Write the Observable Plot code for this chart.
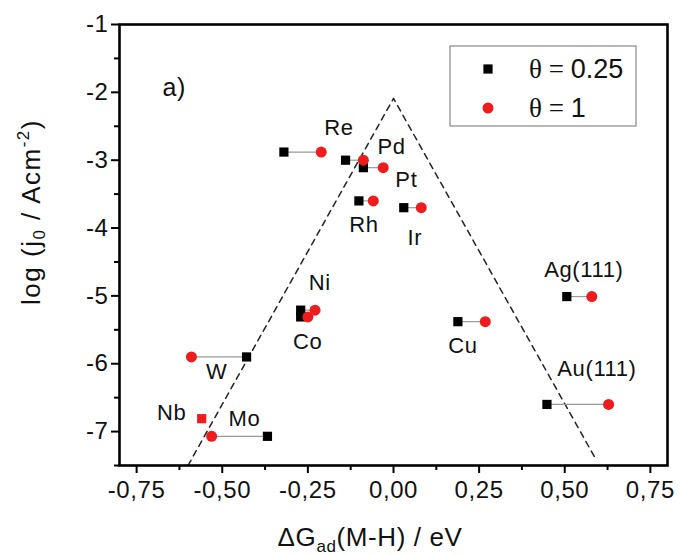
<!DOCTYPE html>
<html><head><meta charset="utf-8">
<script src="https://cdn.jsdelivr.net/npm/d3@7"></script>
<script src="https://cdn.jsdelivr.net/npm/@observablehq/plot@0.6"></script>
<style>
body{margin:0;background:#fff;}
#chart{width:680px;height:555px;}
svg text{font-family:"Liberation Sans",Arial,sans-serif;}
</style></head><body><div id="chart"></div>
<script>
// ---- data ----
const elements = ["Re","Pd","Pt","Rh","Ir","Ni","Co","W","Nb","Mo","Cu","Ag(111)","Au(111)"];
const dG025 = [-0.320,-0.140,-0.088,-0.101,0.030,-0.271,-0.271,-0.429,null,-0.368,0.188,0.506,0.448];
const dG1   = [-0.211,-0.088,-0.030,-0.059,0.081,-0.229,-0.250,-0.590,-0.560,-0.531,0.268,0.579,0.628];
const logj0 = [-2.88,-3.00,-3.11,-3.60,-3.70,-5.21,-5.31,-5.90,-6.81,-7.07,-5.38,-5.01,-6.60];
const volcanoDG = [-0.60, 0.00, 0.59];
const volcanoLogj0 = [-7.50, -2.09, -7.40];
const xTicks = [-0.75,-0.5,-0.25,0,0.25,0.5,0.75];
const xMinor = [-0.625,-0.375,-0.125,0.125,0.375,0.625];
const yTicks = [-1,-2,-3,-4,-5,-6,-7];
const yMinor = [-1.5,-2.5,-3.5,-4.5,-5.5,-6.5,-7.5];
const seriesNames = ["θ = 0.25","θ = 1"];

// label offsets (px) relative to the element's marker
const labelOffsets = {"Re":[55,-24],"Pd":[46,-13],"Pt":[43,12],"Rh":[5,24],"Ir":[11,30],
  "Ni":[19,-27],"Co":[7,25],"W":[-30,15],"Nb":[-30,-6],"Mo":[-23,-17],"Cu":[5,24],
  "Ag(111)":[17,-27],"Au(111)":[50,-35]};

const RED = "#ee1c1c";
const idx = elements.map((_, i) => i);
const both = idx.filter(i => dG025[i] != null);
const only1 = idx.filter(i => dG025[i] == null);
const vIdx = volcanoDG.map((_, i) => i);
const anchorX = i => dG025[i] != null ? dG025[i] : dG1[i];

const labelMarks = idx.map(i => Plot.text([i], {
  x: anchorX, y: i => logj0[i], text: i => elements[i],
  dx: labelOffsets[elements[i]][0], dy: labelOffsets[elements[i]][1],
  fontSize: 22, fill: "#111"
}));

const chart = Plot.plot({
  width: 680, height: 555,
  marginLeft: 119, marginRight: 13, marginTop: 24, marginBottom: 90,
  style: {fontFamily: "Liberation Sans, Arial, sans-serif", fontSize: "24px", letterSpacing: "0.6px", background: "white", overflow: "visible"},
  x: {domain: [-0.8, 0.8], label: null},
  y: {domain: [-7.5, -1], label: null},
  marks: [
    Plot.line(vIdx, {x: i => volcanoDG[i], y: i => volcanoLogj0[i], stroke: "#222", strokeWidth: 1.5, strokeDasharray: "6,5"}),
    Plot.link(both, {x1: i => dG025[i], x2: i => dG1[i], y1: i => logj0[i], y2: i => logj0[i], stroke: "#999", strokeWidth: 1.2}),
    Plot.dot(both, {x: i => dG025[i], y: i => logj0[i], symbol: "square", r: 5.2, fill: "black", stroke: null}),
    Plot.dot(both, {x: i => dG1[i], y: i => logj0[i], r: 5.5, fill: RED, stroke: null}),
    Plot.dot(only1, {x: i => dG1[i], y: i => logj0[i], symbol: "square", r: 5.2, fill: RED, stroke: null}),
    ...labelMarks,
    Plot.text(["a)"], {frameAnchor: "top-left", dx: 43, dy: 54, fontSize: 25, fill: "#111"}),
    Plot.axisX(xTicks, {tickSize: 8, tickPadding: 7, strokeWidth: 2, tickFormat: d => d.toFixed(2).replace(".", ","), fill: "#111", label: null}),
    Plot.axisX(xMinor, {tickSize: 5, strokeWidth: 2, tickFormat: () => "", label: null}),
    Plot.axisY(yTicks, {tickSize: 8, tickPadding: 3, strokeWidth: 2, tickFormat: d => String(d), fill: "#111", label: null}),
    Plot.axisY(yMinor, {tickSize: 5, strokeWidth: 2, tickFormat: () => "", label: null}),
    Plot.frame({stroke: "black", strokeWidth: 2.6})
  ]
});
document.getElementById("chart").appendChild(chart);

const svg = d3.select(chart);
// x axis title with subscript
const xt = svg.append("text").attr("x", 370).attr("y", 546).attr("text-anchor", "middle")
  .attr("font-size", 26).attr("fill", "#111");
xt.append("tspan").text("ΔG");
xt.append("tspan").attr("font-size", 17).attr("dy", 6).text("ad");
xt.append("tspan").attr("dy", -6).text("(M-H) / eV");

// y axis title with subscript / superscript
const yt = svg.append("text").attr("transform", "translate(40,212) rotate(-90)").attr("text-anchor", "middle")
  .attr("font-size", 26).attr("letter-spacing", "1.5px").attr("fill", "#111");
yt.append("tspan").text("log (j");
yt.append("tspan").attr("font-size", 17).attr("dy", 5).text("0");
yt.append("tspan").attr("dy", -5).text(" / Acm");
yt.append("tspan").attr("font-size", 17).attr("dy", -11).text("-2");
yt.append("tspan").attr("dy", 11).text(")");

// legend
const lg = svg.append("g").attr("text-anchor", "start");
lg.append("rect").attr("x", 450).attr("y", 46).attr("width", 186).attr("height", 80)
  .attr("fill", "white").attr("stroke", "#888").attr("stroke-width", 1.2);
const entries = [{sym: "square", color: "black"}, {sym: "circle", color: RED}];
entries.forEach((e, k) => {
  const cy = 69 + k * 39;
  if (e.sym === "square") lg.append("rect").attr("x", 488 - 4.6).attr("y", cy - 4.6).attr("width", 9.2).attr("height", 9.2).attr("fill", e.color);
  else lg.append("circle").attr("cx", 488).attr("cy", cy).attr("r", 5.5).attr("fill", e.color);
  const parts = seriesNames[k].split(" = ");
  const t = lg.append("text").attr("x", 529).attr("y", cy + 9).attr("text-anchor", "start")
    .attr("font-size", 27).attr("letter-spacing", "0px").attr("fill", "#111");
  t.append("tspan").attr("font-family", "Liberation Serif, serif").text(parts[0]);
  t.append("tspan").attr("font-family", "Liberation Serif, serif").text(" = ");
  t.append("tspan").text(parts[1]);
});
</script></body></html>
